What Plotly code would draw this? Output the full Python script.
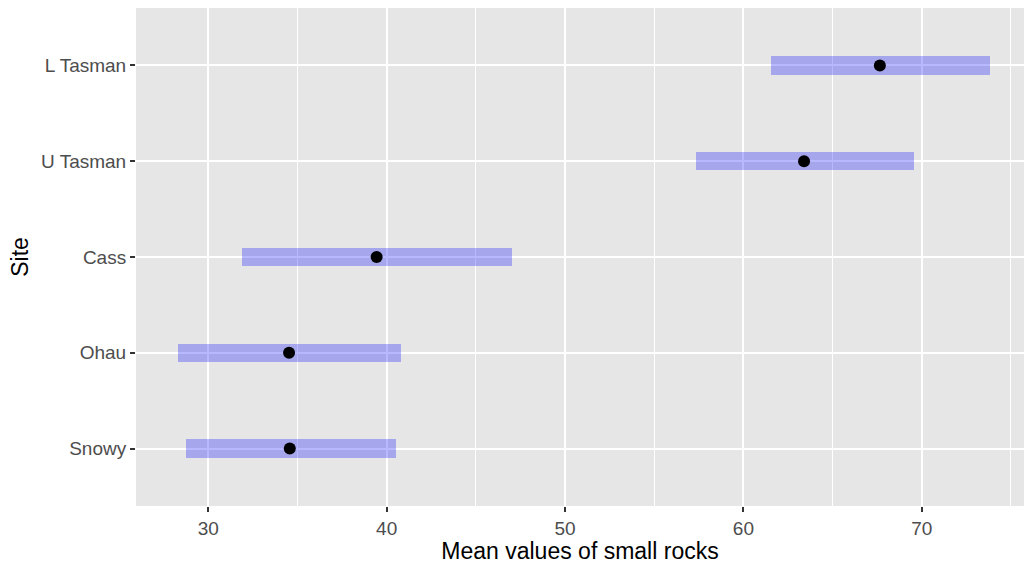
import plotly.graph_objects as go

# Sites, bottom to top
sites = ["Snowy", "Ohau", "Cass", "U Tasman", "L Tasman"]
means = [34.57, 34.53, 39.44, 63.4, 67.65]
lower = [28.75, 28.3, 31.89, 57.33, 61.55]
upper = [40.55, 40.8, 47.03, 69.55, 73.8]

x_ticks = [30, 40, 50, 60, 70]

ypos = list(range(len(sites)))

fig = go.Figure()

# interval bars
fig.add_trace(go.Bar(
    y=ypos,
    x=[u - l for u, l in zip(upper, lower)],
    base=lower,
    orientation="h",
    width=0.19,
    marker=dict(color="rgba(0,0,255,0.28)", line=dict(width=0)),
    hoverinfo="skip",
    showlegend=False,
))

# means
fig.add_trace(go.Scatter(
    x=means,
    y=ypos,
    mode="markers",
    marker=dict(color="black", size=12, line=dict(width=0)),
    showlegend=False,
))

font_family = "Liberation Sans, Arial, sans-serif"

fig.update_layout(
    width=1024,
    height=564,
    margin=dict(l=136, r=0, t=8, b=58),
    paper_bgcolor="white",
    plot_bgcolor="#E6E6E6",
    font=dict(family=font_family, color="#4D4D4D", size=19),
    bargap=0,
    xaxis=dict(
        range=[25.95, 75.73],
        tickvals=x_ticks,
        ticktext=[str(v) for v in x_ticks],
        ticks="outside",
        ticklen=5,
        tickwidth=1.5,
        tickcolor="#333333",
        showgrid=True,
        gridcolor="white",
        gridwidth=2,
        minor=dict(dtick=10, tick0=35, showgrid=True, gridcolor="white", gridwidth=1, ticks=""),
        zeroline=False,
        showline=False,
        tickfont=dict(size=19, color="#4D4D4D"),
        title=dict(text="Mean values of small rocks", font=dict(size=23, color="black"), standoff=6),
    ),
    yaxis=dict(
        range=[-0.6, 4.6],
        tickvals=ypos,
        ticktext=sites,
        ticks="outside",
        ticklen=5,
        tickwidth=1.5,
        tickcolor="#333333",
        showgrid=True,
        gridcolor="white",
        gridwidth=2,
        zeroline=False,
        showline=False,
        tickfont=dict(size=19, color="#4D4D4D"),
        title=dict(text="Site", font=dict(size=23, color="black"), standoff=5),
    ),
)

fig.write_html("out.html")
